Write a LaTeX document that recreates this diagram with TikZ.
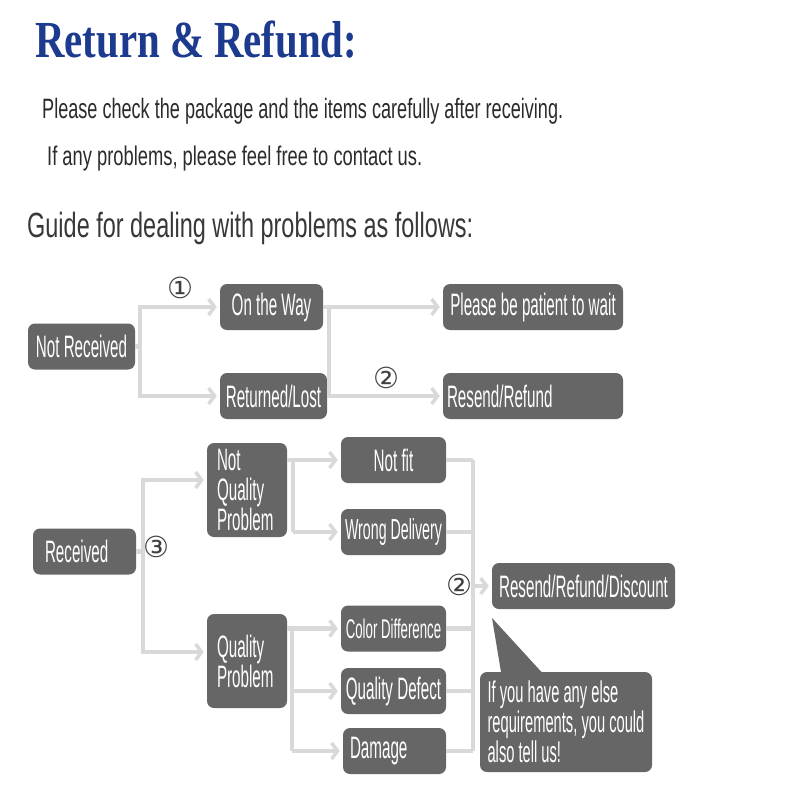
\documentclass[tikz,border=0pt]{standalone}
\usepackage{fontspec}
\usetikzlibrary{arrows.meta}
\setmainfont{Liberation Sans}
\newfontfamily\condfont[FakeStretch=0.49]{Liberation Sans}
\newfontfamily\titlefont{Liberation Serif}
\newfontfamily\symfont{DejaVu Sans}
\definecolor{boxgray}{HTML}{666666}
\definecolor{linegray}{HTML}{D9D9D9}
\definecolor{titleblue}{HTML}{1C3A8E}
\definecolor{bodytext}{HTML}{2B2B2B}
\tikzset{
 box/.style={fill=boxgray, rounded corners=7pt, text=white, font=\condfont\fontsize{31}{30}\selectfont, inner xsep=4pt, inner ysep=2pt, minimum height=46pt},
 conn/.style={draw=linegray, line width=4.5pt},
 arr/.style={conn, shorten >=3pt, -{Straight Barb[length=6pt,width=16pt,line width=3.5pt]}},
 num/.style={font=\symfont\fontsize{29}{29}\selectfont, text=black!75, inner sep=0pt},
 head/.style={anchor=base west, inner sep=0pt, text=bodytext},
}
\begin{document}
\begin{tikzpicture}[x=1pt,y=-1pt]
\useasboundingbox (0,0) rectangle (800,800);
\fill[white] (0,0) rectangle (800,800);
% header
\node[anchor=base west, inner sep=0pt, text=titleblue] (title) at (35,58) {\resizebox{322pt}{\height}{\titlefont\bfseries\fontsize{52}{52}\selectfont Return \& Refund:}};
\node[head] (l1) at (42,118) {\resizebox{521pt}{\height}{\fontsize{28}{28}\selectfont Please check the package and the items carefully after receiving.}};
\node[head] (l2) at (47,165) {\resizebox{375pt}{\height}{\fontsize{27}{27}\selectfont If any problems, please feel free to contact us.}};
\node[head, text=black!78] (l3) at (27,237) {\resizebox{446pt}{\height}{\fontsize{35}{35}\selectfont Guide for dealing with problems as follows:}};
% top section
\node[box, minimum width=107pt] (nr) at (81.5,346.5) {Not Received};
\node[box, minimum width=103pt] (otw) at (271.5,307) {On the Way};
\node[box, minimum width=107pt] (rl) at (273.5,396) {Returned/Lost};
\node[box, minimum width=180pt] (pw) at (533,307) {Please be patient to wait};
\node[box, text width=172pt, align=left] (rr) at (533,396) {Resend/Refund};
% bottom section
\node[box, text width=79pt, inner xsep=12pt, align=left] (rec) at (84.5,551.5) {Received};
\node[box, text width=60pt, inner xsep=10pt, align=left, minimum height=94pt] (nqp) at (247,490) {Not\\Quality\\Problem};
\node[box, text width=60pt, inner xsep=10pt, align=left, minimum height=94pt] (qp) at (247,661) {Quality\\Problem};
\node[box, minimum width=105pt] (nf) at (393.5,460) {Not fit};
\node[box, minimum width=105pt, font=\condfont\fontsize{29}{30}\selectfont] (wd) at (393.5,532) {Wrong Delivery};
\node[box, minimum width=105pt, font=\condfont\fontsize{27}{30}\selectfont] (cd) at (393.5,628.5) {Color Difference};
\node[box, minimum width=105pt] (qd) at (393.5,691) {Quality Defect};
\node[box, text width=89pt, inner xsep=7pt, align=left] (dm) at (394.5,751) {Damage};
\node[box, minimum width=183pt] (rrd) at (583.5,586) {Resend/Refund/Discount};
% speech bubble
\fill[boxgray] (502,678) -- (492,618) -- (547,678) -- cycle;
\node[box, align=left, minimum width=172pt, minimum height=100pt, font=\condfont\fontsize{30}{30}\selectfont] (bub) at (566,722) {If you have any else\\requirements, you could\\also tell us!};
% connectors top
\coordinate (j1) at (140,346.5);
\draw[conn] (nr.east) -- (j1);
\draw[arr] (j1) |- (otw.west);
\draw[arr] (j1) |- (rl.west);
\draw[arr] (otw.east) -- (pw.west);
\coordinate (j2) at (329,307);
\coordinate (j2b) at (329,396);
\draw[conn] (j2) -- (j2b);
\draw[arr] (rl.east) -- (rr.west);
% connectors bottom
\coordinate (j3) at (143,551.5);
\coordinate (a1) at (143,480);
\coordinate (a2) at (143,652);
\draw[conn] (rec.east) -- (j3);
\draw[arr] (j3) |- (nqp.west |- a1);
\draw[arr] (j3) |- (qp.west |- a2);
\coordinate (j4) at (293,460);
\coordinate (j4b) at (293,532);
\draw[arr] (nqp.east |- nf.west) -- (nf.west);
\draw[conn] (j4) -- (j4b);
\draw[arr] (j4b) -- (wd.west);
\coordinate (j5) at (292,628.5);
\coordinate (j5b) at (292,751);
\draw[arr] (qp.east |- cd.west) -- (cd.west);
\draw[conn] (j5) -- (j5b);
\draw[arr] (j5 |- qd.west) -- (qd.west);
\draw[arr] (j5b) -- (dm.west);
\coordinate (k1) at (473,460);
\coordinate (k2) at (473,751);
\draw[conn] (nf.east) -- (k1);
\draw[conn] (wd.east) -- (wd.east -| k1);
\draw[conn] (cd.east) -- (cd.east -| k1);
\draw[conn] (qd.east) -- (qd.east -| k1);
\draw[conn] (dm.east) -- (k2);
\draw[conn] (k1) -- (k2);
\draw[arr] (k1 |- rrd.west) -- (rrd.west);
% circled numbers
\node[num] (c1) at (180,288) {①};
\node[num] (c2) at (386,378) {②};
\node[num] (c3) at (156,547) {③};
\node[num] (c4) at (459,585) {②};
\end{tikzpicture}
\end{document}
